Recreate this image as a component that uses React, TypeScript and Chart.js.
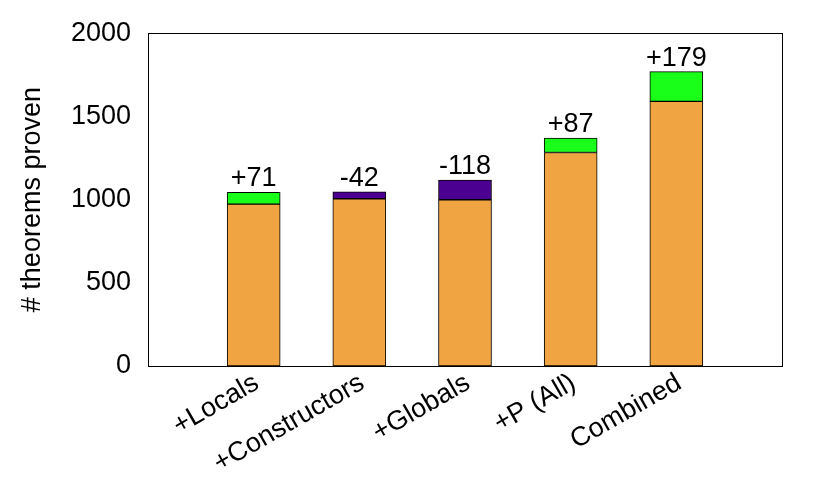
import React, { useEffect, useRef } from 'react';
import { Chart, registerables } from 'chart.js';

Chart.register(...registerables);

const categories = ['+Locals', '+Constructors', '+Globals', '+P (All)', 'Combined'];
const baseValues = [973, 1005, 999, 1283, 1590];
const gainValues: (number | null)[] = [71, null, null, 87, 179];
const lossValues: (number | null)[] = [null, 42, 118, null, null];
const deltaLabels = ['+71', '-42', '-118', '+87', '+179'];
const yTickValues = [0, 500, 1000, 1500, 2000];
const yTitle = '# theorems proven';

const FONT = '"Liberation Sans", Arial, sans-serif';
const FS = 27;

export default function App() {
  const ref = useRef<HTMLCanvasElement | null>(null);

  useEffect(() => {
    if (!ref.current) return;
    const pad = <T,>(arr: T[]) => [null, ...arr, null];
    const labels = ['', ...categories, ''];

    const framePlugin = {
      id: 'frame',
      afterDatasetsDraw(chart: any) {
        const { ctx, chartArea } = chart;
        ctx.save();
        ctx.strokeStyle = '#000';
        ctx.lineWidth = 1;
        ctx.strokeRect(
          Math.round(chartArea.left) + 0.5,
          Math.round(chartArea.top) + 0.5,
          Math.round(chartArea.right - chartArea.left),
          Math.round(chartArea.bottom - chartArea.top)
        );
        ctx.restore();
      },
    };

    const deltaPlugin = {
      id: 'deltas',
      afterDatasetsDraw(chart: any) {
        const { ctx } = chart;
        const xs = chart.scales.x;
        const ys = chart.scales.y;
        ctx.save();
        ctx.font = `${FS}px ${FONT}`;
        ctx.fillStyle = '#000';
        ctx.textAlign = 'center';
        ctx.textBaseline = 'alphabetic';
        categories.forEach((_, i) => {
          const total = baseValues[i] + (gainValues[i] ?? 0) + (lossValues[i] ?? 0);
          const x = xs.getPixelForValue(i + 1);
          const y = ys.getPixelForValue(total);
          ctx.fillText(deltaLabels[i], x, y - 6);
        });
        ctx.restore();
      },
    };

    const common = {
      borderColor: '#000',
      borderWidth: 1,
      borderSkipped: false,
      barThickness: 53,
    };

    const chart = new Chart(ref.current, {
      type: 'bar',
      data: {
        labels,
        datasets: [
          { label: 'base', data: pad(baseValues), backgroundColor: '#f0a442', ...common },
          { label: 'gain', data: pad(gainValues), backgroundColor: '#1aff1a', ...common },
          { label: 'loss', data: pad(lossValues), backgroundColor: '#4b0091', ...common },
        ],
      } as any,
      options: {
        animation: false,
        responsive: false,
        maintainAspectRatio: false,
        layout: { padding: { top: 32, right: 48, left: 0, bottom: 0 } },
        plugins: {
          legend: { display: false },
          tooltip: { enabled: false },
        },
        scales: {
          x: {
            stacked: true,
            offset: false,
            grid: { display: false, drawTicks: false },
            border: { display: false },
            ticks: {
              color: '#000',
              font: { family: FONT, size: FS },
              minRotation: 30,
              maxRotation: 30,
              padding: 1,
              labelOffset: 3,
              autoSkip: false,
            },
            afterFit(scale: any) {
              scale.height = 132;
            },
          },
          y: {
            stacked: true,
            min: 0,
            max: 2000,
            grid: { display: false, drawTicks: false },
            border: { display: false },
            afterBuildTicks(scale: any) {
              scale.ticks = yTickValues.map((v) => ({ value: v }));
            },
            ticks: {
              color: '#000',
              font: { family: FONT, size: FS },
              padding: 17,
              callback: (v: any) => String(v),
            },
            title: {
              display: true,
              text: yTitle,
              color: '#000',
              font: { family: FONT, size: FS },
              padding: { top: 16, bottom: 0 },
            },
            afterFit(scale: any) {
              scale.width = 148;
            },
          },
        },
      },
      plugins: [framePlugin, deltaPlugin],
    });
    return () => chart.destroy();
  }, []);

  return (
    <div style={{ position: 'absolute', left: 0, top: 0, width: 830, height: 498, background: '#fff' }}>
      <canvas ref={ref} width={830} height={498} style={{ display: 'block' }} />
    </div>
  );
}
